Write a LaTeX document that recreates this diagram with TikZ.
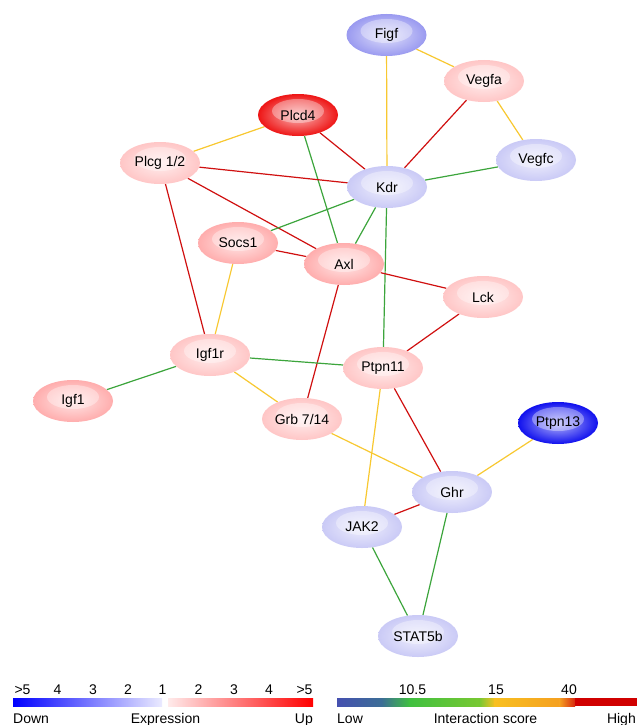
\documentclass[tikz,border=0pt]{standalone}
\usepackage{fontspec}
\setmainfont{Liberation Sans}
\usetikzlibrary{shapes.geometric,backgrounds}
\definecolor{cFigf}{HTML}{9A9AF0}
\definecolor{cLB}{HTML}{CACAF6}
\definecolor{cLR}{HTML}{FFC6C6}
\definecolor{cMR}{HTML}{FFADAD}
\definecolor{cSR}{HTML}{EE1515}
\definecolor{cSB}{HTML}{1010EE}
\definecolor{eRed}{HTML}{D01010}
\definecolor{eGreen}{HTML}{3CA53C}
\definecolor{eYellow}{HTML}{F8C830}
\definecolor{iA}{RGB}{69,80,176}
\definecolor{iB}{RGB}{60,110,150}
\definecolor{iC}{RGB}{64,192,64}
\definecolor{iD}{RGB}{120,200,50}
\definecolor{iE}{RGB}{248,192,32}
\definecolor{iF}{RGB}{245,160,32}
\definecolor{iG}{RGB}{215,40,15}
\definecolor{iH}{RGB}{208,0,0}
\tikzset{
  gn/.style={ellipse, minimum width=80pt, minimum height=42pt, inner sep=0pt,
    inner color=#1!30!white, outer color=#1,
    font=\fontsize{14}{16}\selectfont,
    path picture={\fill[white,opacity=0.35] ([yshift=4pt]path picture bounding box.center) ellipse (26pt and 12pt);}},
  ered/.style={draw=eRed, line width=1.2pt},
  egreen/.style={draw=eGreen, line width=1.2pt},
  eyellow/.style={draw=eYellow, line width=1.2pt},
  lbl/.style={font=\fontsize{14}{16}\selectfont, inner sep=0pt, anchor=base},
}
\begin{document}
\begin{tikzpicture}[x=1pt,y=-1pt]
\useasboundingbox (0,0) rectangle (639,725);
% nodes
\node[gn=cFigf] (figf) at (386.5,35) {Figf};
\node[gn=cLR] (vegfa) at (484,81) {Vegfa};
\node[gn=cSR] (plcd) at (298,115) {Plcd4};
\node[gn=cLR] (plcg) at (160,163) {Plcg 1/2};
\node[gn=cLB] (vegfc) at (536,160) {Vegfc};
\node[gn=cLB] (kdr) at (387,187) {Kdr};
\node[gn=cMR] (socs) at (238,243) {Socs1};
\node[gn=cMR] (axl) at (344,264) {Axl};
\node[gn=cLR] (lck) at (483,297) {Lck};
\node[gn=cLR] (igfr) at (210,355) {Igf1r};
\node[gn=cLR] (ptpn) at (383,368) {Ptpn11};
\node[gn=cMR] (igf) at (73,401) {Igf1};
\node[gn=cLR] (grb) at (302,419) {Grb 7/14};
\node[gn=cSB] (ptpnt) at (558,423) {Ptpn13};
\node[gn=cLB] (ghr) at (452,492) {Ghr};
\node[gn=cLB] (jak) at (362,527) {JAK2};
\node[gn=cLB] (stat) at (418,636) {STAT5b};
% edges
\begin{pgfonlayer}{background}
\fill[white] (0,0) rectangle (639,725);
\draw[eyellow] (figf) -- (vegfa);
\draw[eyellow] (figf) -- (kdr);
\draw[eyellow] (vegfa) -- (vegfc);
\draw[ered] (vegfa) -- (kdr);
\draw[egreen] (vegfc) -- (kdr);
\draw[eyellow] (plcd) -- (plcg);
\draw[ered] (plcd) -- (kdr);
\draw[egreen] (plcd) -- (axl);
\draw[ered] (plcg) -- (kdr);
\draw[ered] (plcg) -- (axl);
\draw[ered] (plcg) -- (igfr);
\draw[egreen] (kdr) -- (socs);
\draw[egreen] (kdr) -- (axl);
\draw[egreen] (kdr) -- (ptpn);
\draw[ered] (socs) -- (axl);
\draw[eyellow] (socs) -- (igfr);
\draw[ered] (axl) -- (lck);
\draw[ered] (axl) -- (grb);
\draw[ered] (lck) -- (ptpn);
\draw[egreen] (igfr) -- (ptpn);
\draw[eyellow] (igfr) -- (grb);
\draw[egreen] (igfr) -- (igf);
\draw[eyellow] (ptpn) -- (jak);
\draw[ered] (ptpn) -- (ghr);
\draw[eyellow] (grb) -- (ghr);
\draw[eyellow] (ptpnt) -- (ghr);
\draw[ered] (ghr) -- (jak);
\draw[egreen] (ghr) -- (stat);
\draw[egreen] (jak) -- (stat);
\end{pgfonlayer}
% expression legend
\shade[left color=blue, right color=blue!8!white] (13,698) rectangle (162,706);
\shade[left color=red!8!white, right color=red] (168,698) rectangle (313,706);
\node[lbl] (e1) at (22.5,694) {>5};
\node[lbl] (e2) at (57.5,694) {4};
\node[lbl] (e3) at (93,694) {3};
\node[lbl] (e4) at (128,694) {2};
\node[lbl] (e5) at (162.5,694) {1};
\node[lbl] (e6) at (198.5,694) {2};
\node[lbl] (e7) at (234,694) {3};
\node[lbl] (e8) at (269,694) {4};
\node[lbl] (e9) at (304.5,694) {>5};
\node[lbl, anchor=base west] (edown) at (13,723) {Down};
\node[lbl] (eexp) at (165.5,723) {Expression};
\node[lbl, anchor=base east] (eup) at (313,723) {Up};
% interaction legend
\shade[left color=iA, right color=iB] (337,698) rectangle (382,706);
\shade[left color=iB, right color=iC] (381.5,698) rectangle (410,706);
\shade[left color=iC, right color=iD] (409.5,698) rectangle (480,706);
\shade[left color=iD, right color=iE] (479.5,698) rectangle (495,706);
\shade[left color=iE, right color=iF] (494.5,698) rectangle (560,706);
\shade[left color=iF, right color=iG] (559.5,698) rectangle (575,706);
\fill[iH] (574.5,698) rectangle (637,706);
\node[lbl] (i1) at (412.5,694) {10.5};
\node[lbl] (i2) at (496,694) {15};
\node[lbl] (i3) at (569,694) {40};
\node[lbl, anchor=base west] (ilow) at (337,723) {Low};
\node[lbl] (iscore) at (485.5,723) {Interaction score};
\node[lbl, anchor=base east] (ihigh) at (636,723) {High};
\end{tikzpicture}
\end{document}
